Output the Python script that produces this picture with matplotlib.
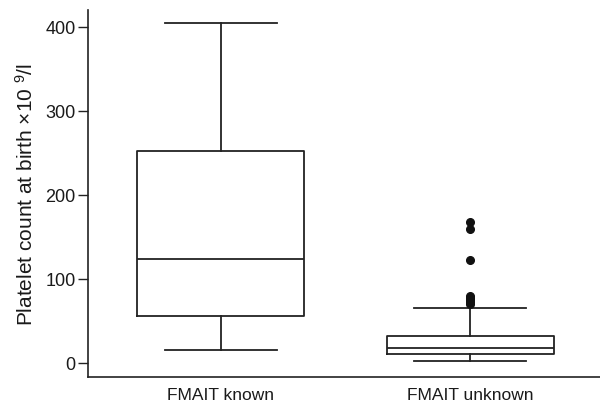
import matplotlib
matplotlib.use("Agg")
import matplotlib.pyplot as plt

plt.rcParams['font.family'] = ['Liberation Sans', 'DejaVu Sans']
plt.rcParams['mathtext.fontset'] = 'custom'
plt.rcParams['mathtext.rm'] = 'Liberation Sans'
plt.rcParams['mathtext.it'] = 'Liberation Sans'

# box statistics
groups = ['FMAIT known', 'FMAIT unknown']
whislo = [15, 2.5]
q1 = [56, 10.5]
med = [123, 18]
q3 = [252, 32]
whishi = [405, 65]
fliers = [[], [168, 159, 122, 80, 77, 75, 72, 70]]

stats = []
for i in range(len(groups)):
    stats.append(dict(label=groups[i], whislo=whislo[i], q1=q1[i], med=med[i],
                      q3=q3[i], whishi=whishi[i], fliers=fliers[i]))

col = '#222222'
lw = 1.3
fig = plt.figure(figsize=(6, 4.06), dpi=100)
ax = fig.add_axes([0.147, 0.069, 0.853, 0.904])
ax.bxp(stats, positions=[1, 2], widths=0.67, showfliers=True,
       boxprops=dict(color=col, linewidth=lw),
       medianprops=dict(color=col, linewidth=lw),
       whiskerprops=dict(color=col, linewidth=lw),
       capprops=dict(color=col, linewidth=lw),
       capwidths=0.45,
       flierprops=dict(marker='o', markerfacecolor='#111111', markeredgecolor='#111111',
                       markersize=5.5))

ax.set_xlim(0.468, 2.52)
ax.set_ylim(-17, 420)
ax.set_yticks([0, 100, 200, 300, 400])
ax.spines['top'].set_visible(False)
ax.spines['right'].set_visible(False)
ax.spines['left'].set_color(col)
ax.spines['bottom'].set_color(col)
ax.spines['left'].set_linewidth(1.2)
ax.spines['bottom'].set_linewidth(1.2)
ax.tick_params(axis='y', length=7, width=1.0, color=col, labelsize=13, pad=2,
               labelcolor='#1a1a1a')
ax.tick_params(axis='x', length=0, labelsize=12.5, pad=7, labelcolor='#1a1a1a')
ax.set_ylabel(r'Platelet count at birth $\times$10 $^{9}$/l', fontsize=15,
              labelpad=6, color='#1a1a1a')

fig.savefig('out.png', dpi=100)
